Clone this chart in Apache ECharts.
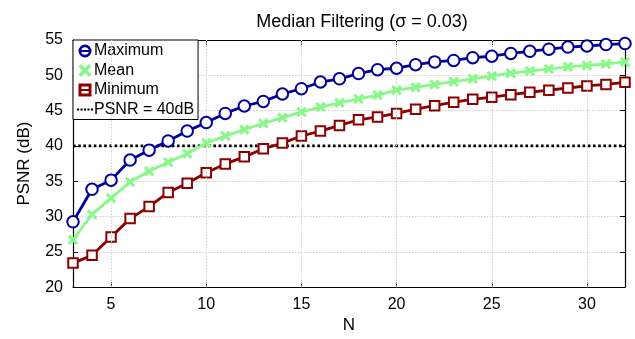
<!DOCTYPE html>
<html>
<head>
<meta charset="utf-8">
<script src="https://cdn.jsdelivr.net/npm/echarts@6/dist/echarts.min.js"></script>
<style>html,body{margin:0;padding:0;background:#fff}#c{width:635px;height:339px}</style>
</head>
<body>
<div id="c"></div>
<script>
const titleText = 'Median Filtering (σ = 0.03)';
const xName = 'N';
const yName = 'PSNR (dB)';
const nValues = [3,4,5,6,7,8,9,10,11,12,13,14,15,16,17,18,19,20,21,22,23,24,25,26,27,28,29,30,31,32];
const maximum = [29.25,33.85,35.15,38.0,39.4,40.7,42.1,43.3,44.6,45.65,46.3,47.35,48.1,49.05,49.5,50.25,50.8,51.0,51.5,51.9,52.1,52.5,52.7,53.1,53.4,53.7,54.0,54.15,54.35,54.5];
const mean = [26.7,30.3,32.6,34.9,36.4,37.7,38.9,40.4,41.4,42.3,43.2,44.0,44.8,45.5,46.1,46.65,47.2,47.9,48.3,48.7,49.1,49.5,49.9,50.3,50.6,50.9,51.2,51.4,51.6,51.9];
const minimum = [23.4,24.5,27.1,29.7,31.4,33.4,34.7,36.2,37.45,38.45,39.6,40.4,41.4,42.1,42.9,43.7,44.1,44.6,45.2,45.7,46.2,46.6,46.9,47.25,47.6,47.9,48.2,48.5,48.7,49.0];
const threshold = 40;
const xTicks = [5,10,15,20,25,30];
const yTicks = [20,25,30,35,40,45,50,55];
const seriesNames = ['Maximum','Mean','Minimum','PSNR = 40dB'];

const font = "'Liberation Sans', Arial, Helvetica, sans-serif";
const blue = '#00009c';
const green = '#88f888';
const red = '#8c0000';
const xPath = 'path://M0,2 L2,0 L5,3 L8,0 L10,2 L7,5 L10,8 L8,10 L5,7 L2,10 L0,8 L3,5 Z';
const ringPath = 'path://M0,6 A6,6 0 1,0 12,6 A6,6 0 1,0 0,6 Z M2.5,6 A3.5,3.5 0 1,1 9.5,6 A3.5,3.5 0 1,1 2.5,6 Z M2.5,5.1 H9.5 V6.9 H2.5 Z';
const squarePath = 'path://M0,0 H11 V11 H0 Z M2.5,2.5 V8.5 H8.5 V2.5 Z M2.5,4.7 H8.5 V6.3 H2.5 Z';
const dotsPath = 'path://M0,0h2.2v2.2h-2.2z M3.6,0h2.2v2.2h-2.2z M7.2,0h2.2v2.2h-2.2z M10.8,0h2.2v2.2h-2.2z M14.4,0h2.2v2.2h-2.2z';

const pair = (arr) => nValues.map((n, i) => [n, arr[i]]);
const chart = echarts.init(document.getElementById('c'));
const tick = { show: true, inside: true, length: 5, lineStyle: { color: '#000', width: 1 } };
const line = { show: true, onZero: false, lineStyle: { color: '#000', width: 1.2 } };
chart.setOption({
  animation: false,
  textStyle: { fontFamily: font },
  title: {
    text: titleText, left: 357, top: 8, textAlign: 'center',
    textStyle: { fontFamily: font, fontSize: 18, fontWeight: 'normal', color: '#000' }
  },
  grid: { left: 73, right: 10, top: 40, bottom: 46, containLabel: false },
  legend: {
    orient: 'vertical', left: 73, top: 40,
    backgroundColor: '#fff', borderColor: '#000', borderWidth: 1,
    padding: [3, 4, 2, 4], itemGap: 3.5, itemWidth: 16, itemHeight: 13,
    textStyle: { fontFamily: font, fontSize: 16, color: '#000', padding: [0,0,0,-4] },
    data: [
      { name: 'Maximum', icon: ringPath, itemStyle: { color: blue, borderWidth: 0 } },
      { name: 'Mean', icon: xPath, itemStyle: { color: green, borderWidth: 0 } },
      { name: 'Minimum', icon: squarePath, itemStyle: { color: red, borderWidth: 0 } },
      { name: 'PSNR = 40dB', icon: dotsPath, itemStyle: { color: '#000', borderWidth: 0 } }
    ]
  },
  xAxis: [
    {
      type: 'value', min: nValues[0], max: nValues[nValues.length-1],
      name: xName, nameLocation: 'middle', nameGap: 25,
      nameTextStyle: { fontFamily: font, fontSize: 17, color: '#000' },
      axisLine: line,
      axisLabel: { customValues: xTicks, margin: 9, fontSize: 16, color: '#000', fontFamily: font },
      axisTick: Object.assign({ customValues: xTicks }, tick),
      splitLine: { show: false }
    },
    {
      type: 'value', position: 'top', min: nValues[0], max: nValues[nValues.length-1],
      axisLine: line,
      axisLabel: { show: false },
      axisTick: Object.assign({ customValues: xTicks }, tick),
      splitLine: { show: false }
    }
  ],
  yAxis: [
    {
      type: 'value', min: yTicks[0], max: yTicks[yTicks.length-1], interval: 5,
      name: yName, nameLocation: 'middle', nameGap: 40, nameRotate: 90,
      nameTextStyle: { fontFamily: font, fontSize: 17, color: '#000' },
      axisLine: line, axisTick: tick,
      axisLabel: { margin: 10, fontSize: 16, color: '#000', fontFamily: font },
      splitLine: { show: true, lineStyle: { color: '#cfcfcf', type: [1.5, 1.5], width: 1 } }
    },
    {
      type: 'value', position: 'right', min: yTicks[0], max: yTicks[yTicks.length-1], interval: 5,
      axisLine: line, axisTick: tick,
      axisLabel: { show: false },
      splitLine: { show: false }
    }
  ],
  series: [
    {
      name: 'gridX', type: 'line', data: [], silent: true,
      markLine: {
        silent: true, symbol: 'none', label: { show: false },
        lineStyle: { color: '#cfcfcf', type: [1.5, 1.5], width: 1 },
        data: xTicks.map(v => ({ xAxis: v }))
      }
    },
    {
      name: seriesNames[3], type: 'line', data: [[nValues[0], threshold], [nValues[nValues.length-1], threshold]],
      symbol: 'none', z: 3,
      lineStyle: { color: '#000', width: 2.6, type: [2.6, 2.6] }
    },
    {
      name: seriesNames[2], type: 'line', data: pair(minimum), z: 4,
      symbol: 'emptyRect', symbolSize: 9.5,
      itemStyle: { color: red, borderColor: red, borderWidth: 2.6 },
      lineStyle: { color: red, width: 2.8 }
    },
    {
      name: seriesNames[1], type: 'line', data: pair(mean), z: 5,
      symbol: xPath, symbolSize: 10.5,
      itemStyle: { color: green },
      lineStyle: { color: green, width: 2.8 }
    },
    {
      name: seriesNames[0], type: 'line', data: pair(maximum), z: 6,
      symbol: 'emptyCircle', symbolSize: 11.5,
      itemStyle: { color: blue, borderColor: blue, borderWidth: 2.6 },
      lineStyle: { color: blue, width: 2.8 }
    }
  ]
});
</script>
</body>
</html>
